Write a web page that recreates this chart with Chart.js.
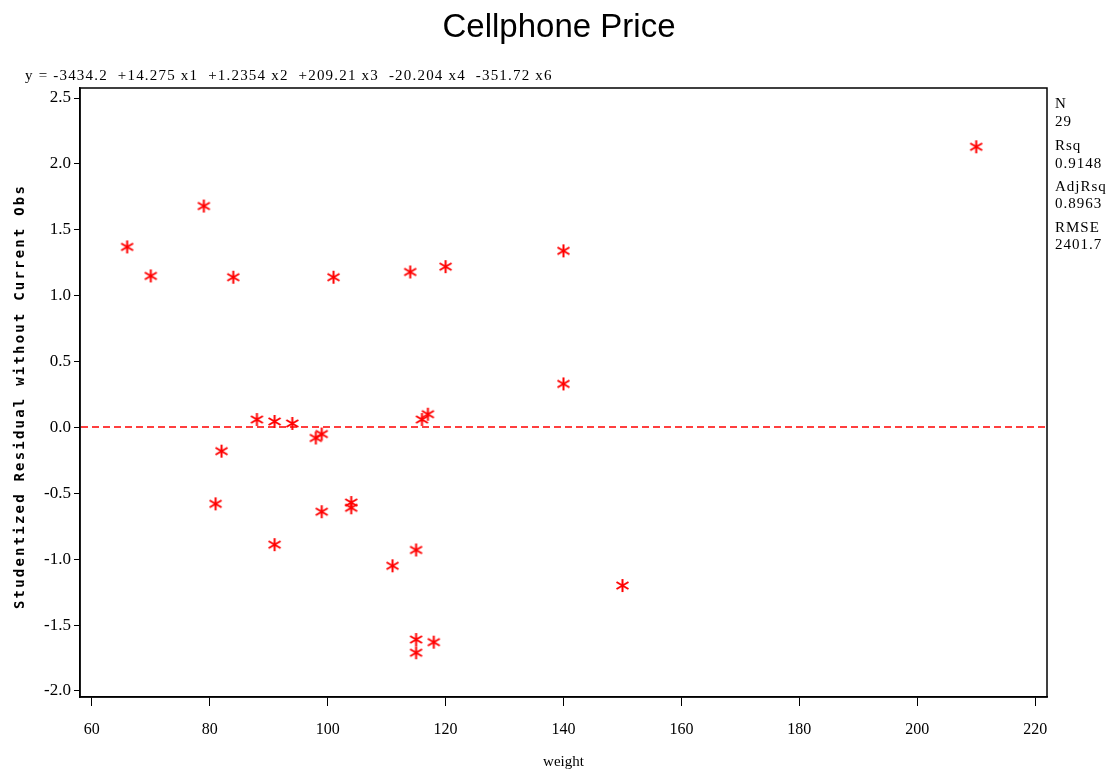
<!DOCTYPE html>
<html>
<head>
<meta charset="utf-8">
<script src="https://cdn.jsdelivr.net/npm/chart.js@4.4.1/dist/chart.umd.min.js"></script>
<style>
  html, body { margin: 0; padding: 0; background: #fff; }
  #wrap { width: 1110px; height: 771px; }
</style>
</head>
<body>
<div id="wrap"><canvas id="residChart" width="1110" height="771"></canvas></div>
<script>
// Werte
const weight = [66, 70, 79, 84, 101, 114, 120, 140, 210, 140,
                88, 91, 94, 98, 99, 116, 117, 82, 81, 91,
                99, 104, 104, 111, 115, 150, 115, 115, 118];
const residual = [1.37, 1.15, 1.68, 1.14, 1.14, 1.18, 1.22, 1.34, 2.13, 0.33,
                  0.06, 0.045, 0.03, -0.08, -0.05, 0.06, 0.10, -0.18, -0.58, -0.89,
                  -0.64, -0.57, -0.61, -1.05, -0.93, -1.20, -1.61, -1.71, -1.63];
const xTicks = [60, 80, 100, 120, 140, 160, 180, 200, 220];
const yTicks = [-2.0, -1.5, -1.0, -0.5, 0.0, 0.5, 1.0, 1.5, 2.0, 2.5];
const statLabels = ['N', '29', 'Rsq', '0.9148', 'AdjRsq', '0.8963', 'RMSE', '2401.7'];
const equation = 'y = -3434.2  +14.275 x1  +1.2354 x2  +209.21 x3  -20.204 x4  -351.72 x6';
const yTitle = 'Studentized Residual without Current Obs';

// Sternchen als Punktsymbol
const star = document.createElement('canvas');
star.width = 15; star.height = 15;
(function () {
    const c = star.getContext('2d');
    c.strokeStyle = '#ff0000';
    c.lineWidth = 2;
    c.beginPath();
    c.moveTo(7.5, 1); c.lineTo(7.5, 14);
    c.moveTo(1.5, 4); c.lineTo(13.5, 11);
    c.moveTo(1.5, 11); c.lineTo(13.5, 4);
    c.stroke();
})();

const points = weight.map((w, i) => ({ x: w, y: residual[i] }));

// Titel, Rahmen, Nulllinie und Texte
const extras = {
    id: 'extras',
    afterDraw(chart) {
        const { ctx, chartArea, scales } = chart;
        ctx.save();
        // gestrichelte Nulllinie
        const y0 = Math.round(scales.y.getPixelForValue(0));
        ctx.globalAlpha = 1;
        ctx.strokeStyle = 'rgb(255, 0, 0)';
        ctx.lineWidth = 1.5;
        ctx.setLineDash([7, 4]);
        ctx.beginPath();
        ctx.moveTo(chartArea.left + 1, y0);
        ctx.lineTo(chartArea.right - 1, y0);
        ctx.stroke();
        ctx.setLineDash([]);

        ctx.strokeStyle = '#000';
        ctx.lineWidth = 1.5;
        ctx.strokeRect(chartArea.left, chartArea.top, chartArea.right - chartArea.left, chartArea.bottom - chartArea.top);

        ctx.fillStyle = '#000';
        ctx.textBaseline = 'middle';
        ctx.textAlign = 'center';
        ctx.font = '33px "Liberation Sans"';
        ctx.fillText('Cellphone Price', 559, 28);

        ctx.textAlign = 'left';
        ctx.font = '15px "Liberation Serif"';
        ctx.letterSpacing = '1.2px';
        ctx.fillText(equation, 25, 76);

        ctx.letterSpacing = '1px';
        const ys = [104, 122, 146, 164, 187, 204, 228, 245];
        statLabels.forEach((t, i) => ctx.fillText(t, chartArea.right + 8, ys[i]));

        // Y-Achsentitel, gesperrt
        ctx.translate(20, (chartArea.top + chartArea.bottom) / 2 + 4);
        ctx.rotate(-Math.PI / 2);
        ctx.textAlign = 'center';
        ctx.font = 'bold 14px "DejaVu Sans Mono"';
        ctx.letterSpacing = '2.2px';
        ctx.fillText(yTitle, 0, 0);
        ctx.restore();
    }
};

const ctx = document.getElementById('residChart').getContext('2d');
new Chart(ctx, {
    type: 'scatter',
    data: {
        datasets: [{
            data: points,
            pointStyle: star,
            pointRadius: 7,
            pointHoverRadius: 7
        }]
    },
    options: {
        responsive: false,
        animation: false,
        layout: { padding: { top: 88, right: 63, left: 0, bottom: 0 } },
        plugins: {
            legend: { display: false },
            title: { display: false },
            tooltip: { enabled: false }
        },
        scales: {
            x: {
                type: 'linear',
                min: 58,
                max: 222,
                afterBuildTicks: (s) => { s.ticks = xTicks.map(v => ({ value: v })); },
                afterFit: (s) => { s.height = 74; },
                grid: { display: true, drawOnChartArea: false, drawTicks: true, tickLength: 9, color: '#000' },
                border: { display: true, color: '#000', width: 1.5 },
                ticks: {
                    color: '#000',
                    padding: 14,
                    font: { family: 'Liberation Serif', size: 16 }
                },
                title: {
                    display: true,
                    text: 'weight',
                    color: '#000',
                    padding: { top: 14, bottom: 0 },
                    font: { family: 'Liberation Serif', size: 15 }
                }
            },
            y: {
                type: 'linear',
                min: -2.046,
                max: 2.576,
                afterBuildTicks: (s) => { s.ticks = yTicks.map(v => ({ value: v })); },
                afterFit: (s) => { s.width = 80; },
                grid: { display: true, drawOnChartArea: false, drawTicks: true, tickLength: 6, color: '#000' },
                border: { display: true, color: '#000', width: 1.5 },
                ticks: {
                    color: '#000',
                    padding: 3,
                    callback: (v) => v.toFixed(1),
                    font: { family: 'Liberation Serif', size: 17 }
                },
                title: { display: false }
            }
        }
    },
    plugins: [extras]
});
</script>
</body>
</html>
